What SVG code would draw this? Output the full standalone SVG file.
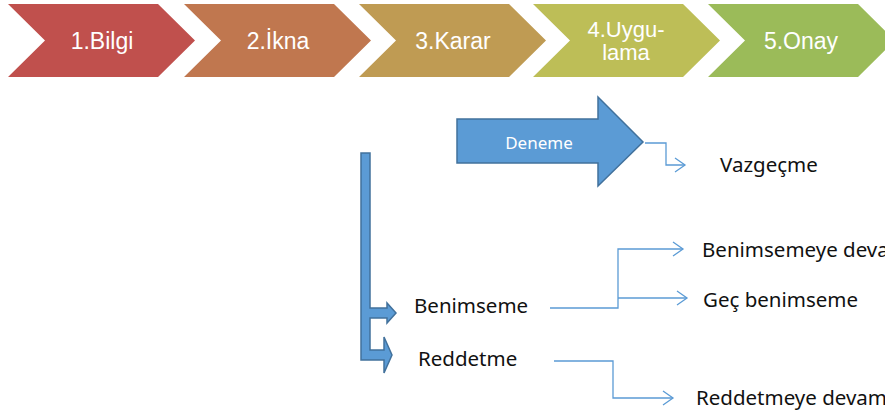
<svg xmlns="http://www.w3.org/2000/svg" width="885" height="419" viewBox="0 0 885 419">
<style>
.chev{stroke:none}
.ct{font-family:"Liberation Sans",Arial,sans-serif;font-size:23px;fill:#fff;text-anchor:middle}
.ct2{font-family:"Liberation Sans",Arial,sans-serif;font-size:22px;fill:#fff;text-anchor:middle}
.lbl{font-family:"Noto Sans","Open Sans",sans-serif;font-size:20.5px;fill:#111}
.blue{fill:#5B9BD5;stroke:#41719C;stroke-width:1.5}
.conn{fill:none;stroke:#5B9BD5;stroke-width:1.3}
</style>
<defs>
<marker id="oa" markerUnits="userSpaceOnUse" markerWidth="14" markerHeight="18" refX="11" refY="8" orient="auto">
<path d="M1,1 L11,8 L1,15" fill="none" stroke="#5B9BD5" stroke-width="1.3"/>
</marker>
</defs>
<rect width="885" height="419" fill="#fff"/>
<g id="chev1"><polygon class="chev" fill="#C0504D" points="8,4 158,4 195,40.5 158,77 8,77 45,40.5"/><text class="ct" x="102" y="49">1.Bilgi</text></g>
<g id="chev2"><polygon class="chev" fill="#C0774F" points="184,4 334,4 371,40.5 334,77 184,77 221,40.5"/><text class="ct" x="278" y="49">2.İkna</text></g>
<g id="chev3"><polygon class="chev" fill="#BF9B53" points="359,4 509,4 546,40.5 509,77 359,77 396,40.5"/><text class="ct" x="453" y="49">3.Karar</text></g>
<g id="chev4"><polygon class="chev" fill="#BDBE57" points="533,4 683,4 720,40.5 683,77 533,77 570,40.5"/><text class="ct2" x="626" y="37">4.Uygu-</text><text class="ct2" x="626" y="60">lama</text></g>
<g id="chev5"><polygon class="chev" fill="#9BBB59" points="708,4 858,4 895,40.5 858,77 708,77 745,40.5"/><text class="ct" x="801" y="49">5.Onay</text></g>
<g id="deneme"><polygon class="blue" points="457,119 598,119 598,97 643,142 598,186 598,163 457,163"/><text x="539" y="149" font-family="Noto Sans,Open Sans,sans-serif" font-size="17" fill="#fff" text-anchor="middle">Deneme</text></g>
<g id="bent-arrow">
<polygon class="blue" points="361,153 370,153 370,308 387,308 387,303 396,313 387,323 387,318 370,318 370,350 384,350 384,337 392,355 384,373 384,360 361,360"/>
</g>
<g id="vazgecme"><text class="lbl" x="720" y="172">Vazgeçme</text></g>
<g id="benimseme"><text class="lbl" x="414" y="313">Benimseme</text></g>
<g id="reddetme"><text class="lbl" x="418" y="366">Reddetme</text></g>
<g id="benimsemeye"><text class="lbl" x="702" y="257">Benimsemeye devam</text></g>
<g id="gec"><text class="lbl" x="703" y="307">Geç benimseme</text></g>
<g id="reddetmeye"><text class="lbl" x="696" y="405">Reddetmeye devam</text></g>
<g id="connectors">
<path class="conn" d="M645,143 H666 V165 H685" marker-end="url(#oa)"/>
<path class="conn" d="M550,308 H618 V249 H683" marker-end="url(#oa)"/>
<path class="conn" d="M618,298 H687" marker-end="url(#oa)"/>
<path class="conn" d="M554,361 H613 V398 H673" marker-end="url(#oa)"/>
</g>
</svg>
